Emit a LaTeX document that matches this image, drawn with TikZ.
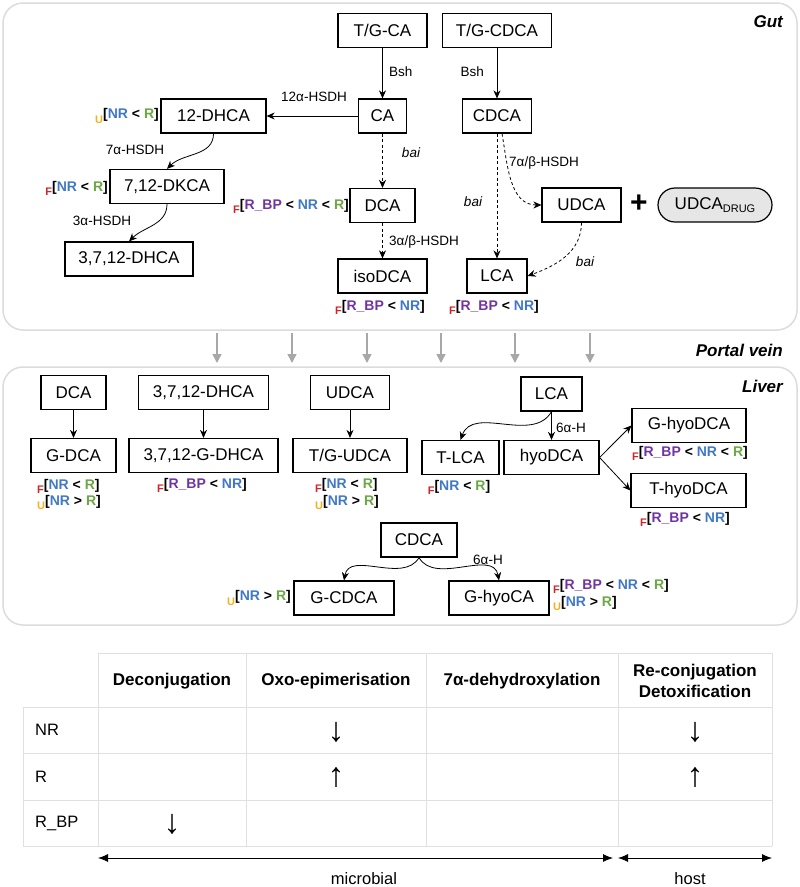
\documentclass[tikz,border=0pt]{standalone}
\usepackage{fontspec}
\setmainfont{Liberation Sans}
\usetikzlibrary{arrows.meta,calc}
\definecolor{cF}{HTML}{D0262B}
\definecolor{cU}{HTML}{F2B21B}
\definecolor{cNR}{HTML}{4178C6}
\definecolor{cR}{HTML}{6BA845}
\definecolor{cBP}{HTML}{7133A3}
\definecolor{panelc}{HTML}{DCDCDC}
\definecolor{gridc}{HTML}{E0E0E0}
\definecolor{veinc}{HTML}{A8A8A8}
\definecolor{drugc}{HTML}{E6E6E6}
\newcommand\sF{\textcolor{cF}{\raisebox{-0.55ex}{\fontsize{11}{11}\selectfont F}}}
\newcommand\sU{\textcolor{cU}{\raisebox{-0.55ex}{\fontsize{11}{11}\selectfont U}}}
\newcommand\tNR{\textcolor{cNR}{NR}}
\newcommand\tR{\textcolor{cR}{R}}
\newcommand\tBP{\textcolor{cBP}{R\_BP}}
\begin{document}
\begin{tikzpicture}[x=1pt,y=-1pt,
 box/.style={draw,line width=1.2pt,minimum height=34pt,inner sep=0pt,font=\fontsize{17}{20}\selectfont},
 lbl/.style={inner sep=0pt,font=\fontsize{13.5}{15}\selectfont},
 ilbl/.style={inner sep=0pt,font=\itshape\fontsize{13.5}{15}\selectfont},
 ann/.style={inner sep=0pt,font=\bfseries\fontsize{14}{16.5}\selectfont,align=left},
 arr/.style={-{Stealth[length=8pt,width=7pt,inset=2.5pt]},line width=0.8pt},
 darr/.style={arr,dash pattern=on 3pt off 2.5pt},
 panelbox/.style={draw=panelc,line width=1.5pt,rounded corners=20pt},
 region/.style={inner sep=0pt,font=\bfseries\itshape\fontsize{17}{20}\selectfont},
 veinarr/.style={draw=veinc,line width=1.5pt,-{Triangle[length=9pt,width=9pt]}},
 tline/.style={draw=gridc,line width=1pt},
 thead/.style={inner sep=0pt,font=\bfseries\fontsize{17}{21}\selectfont,align=center},
 ttext/.style={inner sep=0pt,font=\fontsize{16.5}{20}\selectfont},
 tarrow/.style={inner sep=0pt,font=\fontsize{34}{36}\selectfont},
 barr/.style={{Latex[length=10pt,width=8pt]}-{Latex[length=10pt,width=8pt]},line width=0.8pt}
]
\useasboundingbox (0,0) rectangle (800,887);

% panels
\draw[panelbox] (3,3) rectangle (797,330);
\draw[panelbox] (3,367) rectangle (797,625);
\node[region,anchor=east] (gutl) at (783,22) {Gut};
\node[region,anchor=east] (pvl) at (783,350) {Portal vein};
\node[region,anchor=east] (livl) at (783,386) {Liver};

% portal vein arrows
\foreach \i/\x in {1/217,2/292,3/367,4/441,5/515,6/590}{
  \coordinate (vs\i) at (\x,333);
  \coordinate (ve\i) at (\x,363);
  \draw[veinarr] (vs\i) -- (ve\i);
}

% ---------- Gut ----------
\node[box,minimum width=89pt] (tgca) at (382.5,30.5) {T/G-CA};
\node[box,minimum width=109pt] (tgcdca) at (497,30.5) {T/G-CDCA};
\node[box,minimum width=48pt] (ca) at (382.5,116) {CA};
\node[box,minimum width=69pt] (cdca) at (497,116) {CDCA};
\node[box,minimum width=105pt] (dhca12) at (213.5,116) {12-DHCA};
\node[box,minimum width=114pt] (dkca) at (167,186.5) {7,12-DKCA};
\node[box,minimum width=128pt] (dhca3712) at (129,259) {3,7,12-DHCA};
\node[box,minimum width=65pt] (dca) at (382.5,205.5) {DCA};
\node[box,minimum width=89pt] (isodca) at (382.5,276) {isoDCA};
\node[box,minimum width=60pt] (lca) at (497,276) {LCA};
\node[box,minimum width=79pt] (udca) at (581.5,205) {UDCA};
\node[inner sep=0pt,font=\bfseries\fontsize{30}{30}\selectfont] (plus) at (639,204) {+};
\node[box,minimum width=114pt,rounded corners=17pt,fill=drugc] (drug) at (715,205)
  {UDCA\raisebox{-0.35ex}{\fontsize{11}{12}\selectfont DRUG}};

\draw[arr] (tgca) -- (ca);
\draw[arr] (tgcdca) -- (cdca);
\draw[arr] (ca) -- (dhca12);
\draw[arr] (dhca12.south) to[out=-90,in=45] (dkca.north);
\draw[arr] (dkca.south) to[out=-90,in=45] (dhca3712.north);
\draw[darr] (ca) -- (dca);
\draw[darr] (dca) -- (isodca);
\draw[darr] (cdca) -- (lca);
\draw[darr] ([xshift=5pt]cdca.south) to[out=-80,in=180] (udca.west);
\draw[darr] (udca.south) to[out=-90,in=20] (lca.east);

\node[lbl,anchor=west] (bsh1) at (389,72) {Bsh};
\node[lbl,anchor=east] (bsh2) at (484,72) {Bsh};
\node[lbl] (l12a) at (314,97) {12α-HSDH};
\node[lbl] (l7a) at (135,150) {7α-HSDH};
\node[lbl] (l3a) at (102,221) {3α-HSDH};
\node[ilbl] (bai1) at (411,153) {bai};
\node[lbl,anchor=west] (l3ab) at (389,242) {3α/β-HSDH};
\node[ilbl] (bai2) at (473,202) {bai};
\node[lbl,anchor=west] (l7ab) at (509,163) {7α/β-HSDH};
\node[ilbl] (bai3) at (585,262) {bai};

\node[ann,anchor=east] (a1) at (159,116) {\sU[\tNR{} < \tR]};
\node[ann,anchor=east] (a2) at (108,188) {\sF[\tNR{} < \tR]};
\node[ann,anchor=east] (a3) at (349,206) {\sF[\tBP{} < \tNR{} < \tR]};
\node[ann] (a4) at (380,307) {\sF[\tBP{} < \tNR]};
\node[ann] (a5) at (494,307) {\sF[\tBP{} < \tNR]};

% ---------- Liver ----------
\node[box,minimum width=65pt] (ldca) at (73.5,392.5) {DCA};
\node[box,minimum width=85pt] (gdca) at (73.5,455.5) {G-DCA};
\node[box,minimum width=130pt] (ldhca) at (203.5,392.5) {3,7,12-DHCA};
\node[box,minimum width=149pt] (gdhca) at (203.5,455.5) {3,7,12-G-DHCA};
\node[box,minimum width=79pt] (ludca) at (350,392.5) {UDCA};
\node[box,minimum width=114pt] (tgudca) at (350,455.5) {T/G-UDCA};
\node[box,minimum width=61pt] (llca) at (551.5,394) {LCA};
\node[box,minimum width=77pt] (tlca) at (460.5,457.5) {T-LCA};
\node[box,minimum width=95pt] (hyodca) at (551.5,457.5) {hyoDCA};
\node[box,minimum width=114pt] (ghyodca) at (689,425.5) {G-hyoDCA};
\node[box,minimum width=115pt] (thyodca) at (688.5,490.5) {T-hyoDCA};
\node[box,minimum width=76pt] (lcdca) at (419,540) {CDCA};
\node[box,minimum width=100pt] (gcdca) at (344,598) {G-CDCA};
\node[box,minimum width=100pt] (ghyoca) at (499,598) {G-hyoCA};

\draw[arr] (ldca) -- (gdca);
\draw[arr] (ldhca) -- (gdhca);
\draw[arr] (ludca) -- (tgudca);
\draw[arr] (llca) -- (hyodca);
\draw[arr] (llca.south) to[out=-120,in=70] (tlca.north);
\draw[arr] (hyodca.east) -- (ghyodca.west);
\draw[arr] (hyodca.east) -- (thyodca.west);
\draw[arr] (lcdca.south) to[out=-120,in=80] (gcdca.north);
\draw[arr] (lcdca.south) to[out=-60,in=100] (ghyoca.north);

\node[lbl,anchor=west] (l6a1) at (556,428) {6α-H};
\node[lbl] (l6a2) at (488,560) {6α-H};

\node[ann] (b1) at (69,494.5) {\sF[\tNR{} < \tR]\\\sU[\tNR{} > \tR]};
\node[ann] (b2) at (202,485) {\sF[\tBP{} < \tNR]};
\node[ann] (b3) at (347,494) {\sF[\tNR{} < \tR]\\\sU[\tNR{} > \tR]};
\node[ann] (b4) at (459,487) {\sF[\tNR{} < \tR]};
\node[ann] (b5) at (690,453) {\sF[\tBP{} < \tNR{} < \tR]};
\node[ann] (b6) at (685,519) {\sF[\tBP{} < \tNR]};
\node[ann,anchor=east] (b7) at (291,598) {\sU[\tNR{} > \tR]};
\node[ann,anchor=west] (b8) at (553,595) {\sF[\tBP{} < \tNR{} < \tR]\\\sU[\tNR{} > \tR]};

% ---------- Table ----------
\draw[tline] (98,653) -- (772,653);
\foreach \y in {707,753,800,846}{\draw[tline] (23,\y) -- (772,\y);}
\draw[tline] (23,707) -- (23,846);
\foreach \x in {98,246,426,618,772}{\draw[tline] (\x,653) -- (\x,846);}

\node[thead] (h1) at (172,681) {Deconjugation};
\node[thead] (h2) at (336,681) {Oxo-epimerisation};
\node[thead] (h3) at (522,681) {7α-dehydroxylation};
\node[thead] (h4) at (695,681) {Re-conjugation\\Detoxification};
\node[ttext,anchor=west] (r1) at (35,730) {NR};
\node[ttext,anchor=west] (r2) at (35,777) {R};
\node[ttext,anchor=west] (r3) at (35,823) {R\_BP};
\node[tarrow] (t1) at (336,732) {↓};
\node[tarrow] (t2) at (336,777) {↑};
\node[tarrow] (t3) at (172,824) {↓};
\node[tarrow] (t4) at (695,732) {↓};
\node[tarrow] (t5) at (695,777) {↑};

\coordinate (m1) at (98,858);
\coordinate (m2) at (613,858);
\coordinate (hh1) at (618,858);
\coordinate (hh2) at (772,858);
\draw[barr] (m1) -- (m2);
\draw[barr] (hh1) -- (hh2);
\node[ttext] (mic) at (364,879) {microbial};
\node[ttext] (hos) at (690,879) {host};
\end{tikzpicture}
\end{document}
